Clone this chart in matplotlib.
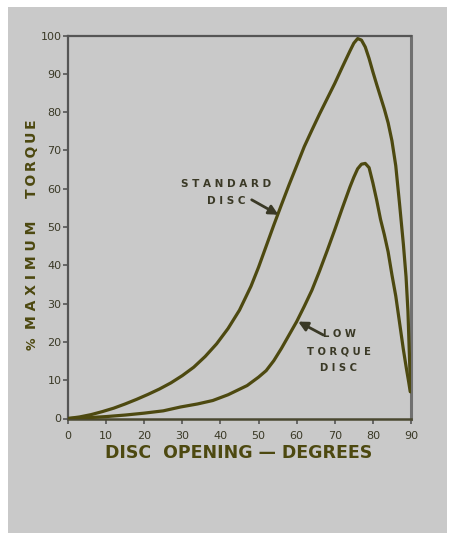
import matplotlib
matplotlib.use('Agg')
import matplotlib.pyplot as plt
from matplotlib.patches import Rectangle

# ── Data ──────────────────────────────────────────────────────────────────
std_x = [0, 3, 6, 9, 12, 15, 18, 21, 24, 27, 30, 33, 36, 39, 42, 45, 48, 50,
         52, 54, 56, 58, 60, 62, 64, 66, 68, 70, 72, 74, 75, 76, 77, 78, 79,
         80, 81, 82, 83, 84, 85, 86, 87, 88, 88.7, 89.2, 89.6, 89.9]
std_y = [0, 0.4, 1.0, 1.8, 2.7, 3.8, 5.0, 6.3, 7.7, 9.3, 11.2, 13.4, 16.2,
         19.5, 23.5, 28.3, 34.5, 39.5, 45, 50.5, 55.8, 61, 66, 71, 75.3,
         79.5, 83.5, 87.5, 91.8, 96, 98, 99.2, 98.8, 97, 94, 90.5,
         87.2, 84, 80.8, 77.2, 72.5, 66, 56, 45.5, 37, 28, 16, 7]

low_x = [0, 5, 10, 15, 20, 25, 29.5, 34, 38, 42, 47, 50, 52, 54, 56, 58, 60,
         62, 64, 66, 68, 70, 72, 74, 75, 76, 77, 78, 79, 80, 81, 82, 83, 84,
         85, 86, 87, 88, 88.8, 89.4, 89.8]
low_y = [0, 0.2, 0.5, 0.9, 1.4, 2.0, 3.0, 3.8, 4.7, 6.2, 8.6, 10.8, 12.5,
         15.1, 18.3, 21.8, 25.3, 29.3, 33.5, 38.5, 43.8, 49.3, 55, 60.5, 63,
         65.2, 66.4, 66.6, 65.5, 61.5, 57, 52, 48, 43.5, 37.5, 32, 25, 18,
         13, 9.5, 7]

x_ticks = [0, 10, 20, 30, 40, 50, 60, 70, 80, 90]
y_ticks = [0, 10, 20, 30, 40, 50, 60, 70, 80, 90, 100]

BG = '#c9c9c9'
OLIVE = '#4d4910'
INK = '#3a3926'
SPINE = '#555555'

W, H = 452, 533
fig = plt.figure(figsize=(W / 100, H / 100), dpi=100, facecolor='white')
fig.patches.append(Rectangle((8 / W, 0), (447 - 8) / W, 1 - 7 / H,
                             transform=fig.transFigure, facecolor=BG,
                             edgecolor='none', zorder=-10))

# axes box in pixel terms: x 68..411, y 35.5..418.5 (from top)
ax = fig.add_axes([68 / W, 1 - 418.5 / H, (411 - 68) / W, (418.5 - 35.5) / H])
ax.set_facecolor(BG)

ax.plot(std_x, std_y, color=OLIVE, lw=2.3, solid_capstyle='round',
        solid_joinstyle='round', zorder=3)
ax.plot(low_x, low_y, color=OLIVE, lw=2.3, solid_capstyle='round',
        solid_joinstyle='round', zorder=3)

ax.set_xlim(0, 90)
ax.set_ylim(0, 100)
ax.set_xticks(x_ticks)
ax.set_yticks(y_ticks)
ax.tick_params(direction='out', length=3.8, width=1.2, color=SPINE,
               labelsize=8, labelcolor=INK, pad=0.8)
ax.tick_params(axis='x', pad=5.5)

for side in ['left', 'top']:
    ax.spines[side].set_color(SPINE)
    ax.spines[side].set_linewidth(1.6)
ax.spines['bottom'].set_color('#4a4830')
ax.spines['bottom'].set_linewidth(1.8)
ax.spines['right'].set_color('#707070')
ax.spines['right'].set_linewidth(2.2)

# axis titles placed where they sit in the original
fig.text(239 / W, 1 - 453.5 / H, "DISC  OPENING — DEGREES", fontsize=12.5,
         fontweight='bold', color=OLIVE, ha='center', va='center')
fig.text(31.7 / W, 1 - 344 / H, "%", fontsize=9, fontweight='bold',
         color=OLIVE, ha='center', va='center', rotation=90)
fig.text(31.7 / W, 1 - 275 / H, "M A X I M U M", fontsize=10,
         fontweight='bold', color=OLIVE, ha='center', va='center', rotation=90)
fig.text(31.7 / W, 1 - 159 / H, "T\u2009O\u2009R\u2009Q\u2009U\u2009E",
         fontsize=10, fontweight='bold', color=OLIVE, ha='center',
         va='center', rotation=90)

arrow = dict(arrowstyle='-|>,head_length=0.55,head_width=0.28', color=INK,
             lw=2.0, shrinkA=0, shrinkB=0)
ax.text(41.6, 59.1, "S T A N D A R D\nD I S C", fontsize=7.5,
        fontweight='bold', color=INK, ha='center', va='center',
        linespacing=1.9)
ax.annotate("", xy=(55.2, 53.2), xytext=(48.2, 57.1), arrowprops=arrow)

ax.text(71.1, 17.6, "L O W\nT O R Q U E\nD I S C", fontsize=7.2,
        fontweight='bold', color=INK, ha='center', va='center',
        linespacing=1.85)
ax.annotate("", xy=(60.4, 25.3), xytext=(67.0, 21.8), arrowprops=arrow)

fig.savefig("out.png", dpi=100, facecolor='white')
